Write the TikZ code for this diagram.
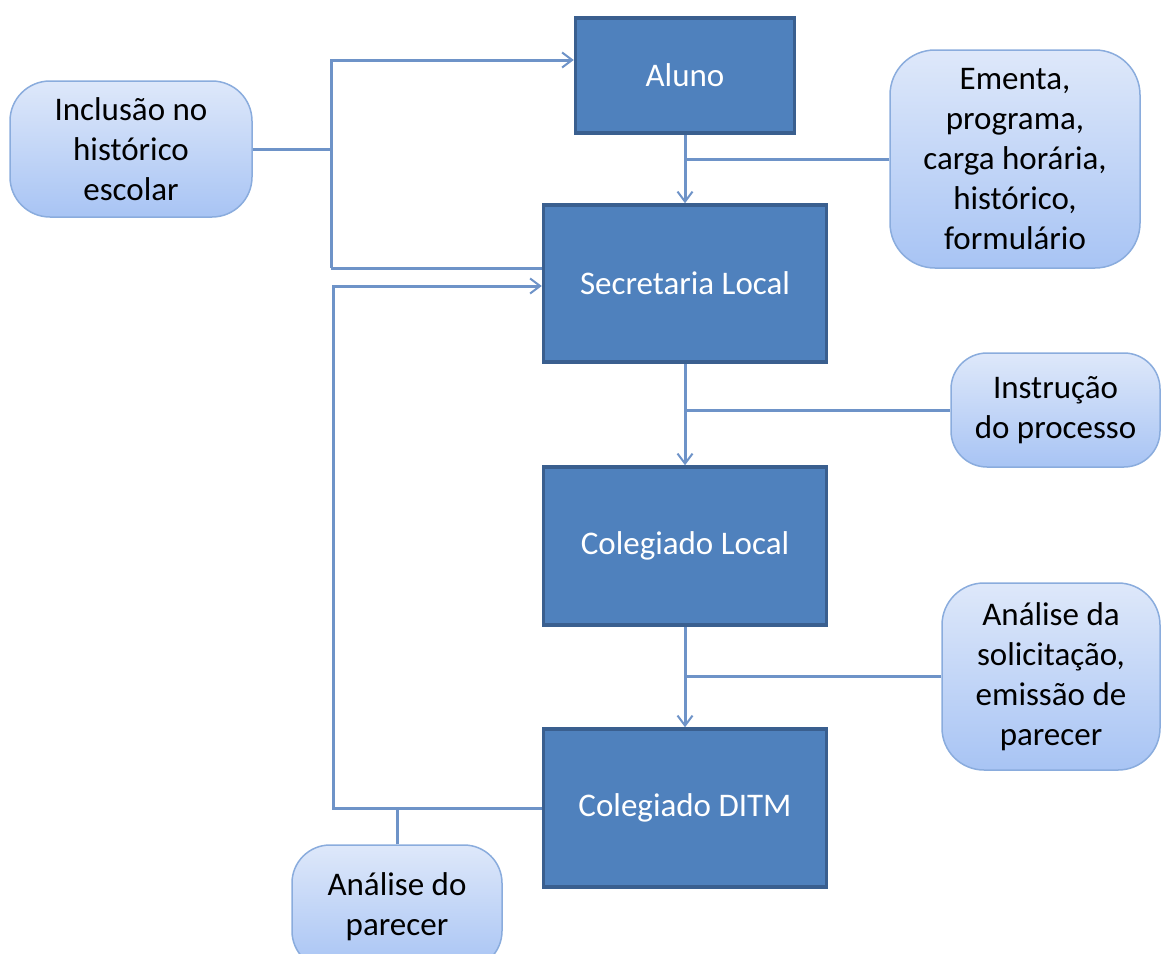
\documentclass[tikz,border=0pt]{standalone}
\usepackage{fontspec}
\setmainfont{Carlito}
\usetikzlibrary{arrows.meta}
\definecolor{darkfill}{HTML}{4F81BD}
\definecolor{darkline}{HTML}{3A5F8F}
\definecolor{connc}{HTML}{6E93C8}
\definecolor{lighttop}{HTML}{DEE8FA}
\definecolor{lightbot}{HTML}{A8C4F4}
\definecolor{lightline}{HTML}{8AACDD}
\tikzset{
  darkbox/.style={rectangle, fill=darkfill, draw=darkline, line width=3.5pt, text=white, inner sep=0pt, font=\fontsize{33}{40}\selectfont},
  lightbox/.style={rectangle, rounded corners=40pt, top color=lighttop, bottom color=lightbot, draw=lightline, line width=1.5pt, text=black, align=center, inner sep=0pt, font=\fontsize{33}{40}\selectfont},
  conn/.style={draw=connc, line width=3pt},
  arr/.style={-{Straight Barb[length=10pt,width=15pt,line width=2pt]}}
}
\begin{document}
\begin{tikzpicture}[x=1pt,y=-1pt]
\useasboundingbox (0,0) rectangle (1161,953);
% main boxes
\node[darkbox, minimum width=219pt, minimum height=115pt] (aluno) at (685,75.5) {Aluno};
\node[darkbox, minimum width=283pt, minimum height=157pt] (sec) at (685,283.5) {Secretaria Local};
\node[darkbox, minimum width=283pt, minimum height=158pt] (col) at (685,546) {Colegiado Local};
\node[darkbox, minimum width=283pt, minimum height=158pt] (dit) at (685,808) {Colegiado DITM};
% side boxes
\node[lightbox, minimum width=242pt, minimum height=136pt] (incl) at (131,149) {Inclusão no\\histórico\\escolar};
\node[lightbox, minimum width=250pt, minimum height=218pt, rounded corners=45pt] (ement) at (1015,159) {Ementa,\\programa,\\carga horária,\\histórico,\\formulário};
\node[lightbox, minimum width=209pt, minimum height=114pt, rounded corners=36pt] (instr) at (1055.5,410) {Instrução\\do processo};
\node[lightbox, minimum width=218pt, minimum height=187pt, rounded corners=42pt] (anal) at (1051,676.5) {Análise da\\solicitação,\\emissão de\\parecer};
\node[lightbox, minimum width=210pt, minimum height=124pt, rounded corners=38pt] (pare) at (397,907) {Análise do\\parecer};
% main flow
\draw[conn, arr] (aluno.south) -- (sec.north);
\draw[conn, arr] (sec.south) -- (col.north);
\draw[conn, arr] (col.south) -- (dit.north);
% right branches
\draw[conn] (ement.west) -- (ement.west -| aluno.south);
\draw[conn] (instr.west) -- (instr.west -| sec.south);
\draw[conn] (anal.west) -- (anal.west -| col.south);
% left loop: inclusion
\coordinate (lt) at (331,60);
\coordinate (lb) at (331,268);
\draw[conn, arr] (lb) -- (lt) -- (lt -| aluno.west);
\draw[conn] (lb) -- (lb -| sec.west);
\draw[conn] (incl.east) -- (incl.east -| lt);
% left loop: return from DITM
\coordinate (rt) at (333,286);
\coordinate (rb) at (333,808);
\draw[conn, arr] (dit.west) -- (rb) -- (rt) -- (rt -| sec.west);
\draw[conn] (pare.north) -- (pare.north |- rb);
\end{tikzpicture}
\end{document}
